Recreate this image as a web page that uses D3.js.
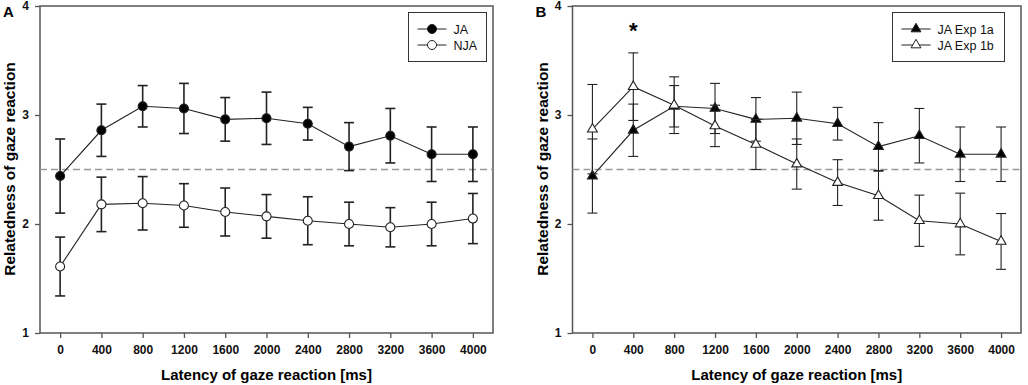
<!DOCTYPE html>
<html lang="en">
  <head>
    <meta charset="UTF-8" />
    <title>Gaze reaction</title>
    <style>
      body { margin: 0; background: #fff; }
      svg text { font-family: "Liberation Sans", Arial, sans-serif; }
    </style>
  </head>
  <body>
    <svg id="chart" width="1028" height="385"></svg>
    <script src="https://d3js.org/d3.v7.min.js"></script>
    <script>
      // data
      const latency = [0, 400, 800, 1200, 1600, 2000, 2400, 2800, 3200, 3600, 4000];
      const jaMean = [2.44, 2.86, 3.08, 3.06, 2.96, 2.97, 2.92, 2.71, 2.81, 2.64, 2.64];
      const jaErr = [0.34, 0.24, 0.19, 0.23, 0.2, 0.24, 0.15, 0.22, 0.25, 0.25, 0.25];
      const njaMean = [1.61, 2.18, 2.19, 2.17, 2.11, 2.07, 2.03, 2.0, 1.97, 2.0, 2.05];
      const njaErr = [0.27, 0.25, 0.245, 0.2, 0.22, 0.2, 0.22, 0.2, 0.18, 0.2, 0.23];
      const ja1bMean = [2.87, 3.26, 3.09, 2.9, 2.73, 2.55, 2.38, 2.26, 2.03, 2.0, 1.84];
      const ja1bErr = [0.41, 0.31, 0.26, 0.19, 0.23, 0.23, 0.21, 0.225, 0.235, 0.283, 0.256];
      const yTicks = [1, 2, 3, 4];
      const chance = 2.5;

      const svg = d3.select("#chart");
      const ink = "#222";

      const drawPanel = (p) => {
        const g = svg.append("g");
        const x = d3.scaleLinear().domain([-195, 4195]).range([p.left, p.right]);
        const y = d3.scaleLinear().domain([1, 4]).range([333, 6]);

        // frame
        g.append("rect")
          .attr("x", p.left).attr("y", 6)
          .attr("width", p.right - p.left).attr("height", 327)
          .attr("fill", "none").attr("stroke", "#555").attr("stroke-width", 1.5);

        // axes
        const xAxis = g.append("g")
          .attr("transform", "translate(0,333)")
          .call(d3.axisBottom(x).tickValues(latency).tickFormat(d3.format("d")).tickSize(5).tickPadding(7).tickSizeOuter(0));
        const yAxis = g.append("g")
          .attr("transform", `translate(${p.left},0)`)
          .call(d3.axisLeft(y).tickValues(yTicks).tickFormat(d3.format("d")).tickSize(5).tickPadding(6).tickSizeOuter(0));
        [xAxis, yAxis].forEach((a) => {
          a.select(".domain").remove();
          a.selectAll("line").attr("stroke", "#555").attr("stroke-width", 1.3);
          a.selectAll("text").attr("fill", "#111").style("font-size", "12px").style("font-weight", "bold");
        });

        // chance line
        g.append("line")
          .attr("x1", p.left).attr("x2", p.right)
          .attr("y1", y(chance)).attr("y2", y(chance))
          .attr("stroke", "#999").attr("stroke-width", 1.3)
          .attr("stroke-dasharray", "7,4");

        // series
        p.series.forEach((s) => {
          const pts = latency.map((l, i) => ({ l, m: s.mean[i], e: s.err[i] }));
          const eb = g.append("g").attr("stroke", ink).attr("stroke-width", p.barWidth);
          eb.selectAll(".v").data(pts).join("line")
            .attr("x1", (d) => x(d.l)).attr("x2", (d) => x(d.l))
            .attr("y1", (d) => y(d.m + d.e)).attr("y2", (d) => y(d.m - d.e));
          [1, -1].forEach((sg) => {
            eb.selectAll(null).data(pts).join("line")
              .attr("x1", (d) => x(d.l) - 5).attr("x2", (d) => x(d.l) + 5)
              .attr("y1", (d) => y(d.m + sg * d.e)).attr("y2", (d) => y(d.m + sg * d.e));
          });
          g.append("path")
            .datum(pts)
            .attr("fill", "none").attr("stroke", ink).attr("stroke-width", 1.1)
            .attr("d", d3.line().x((d) => x(d.l)).y((d) => y(d.m)));
          g.selectAll(null).data(pts).join("path")
            .attr("transform", (d) => `translate(${x(d.l)},${y(d.m)})`)
            .attr("d", d3.symbol().type(s.shape).size(s.size))
            .attr("fill", s.fill).attr("stroke", ink).attr("stroke-width", 1.1);
        });

        // legend
        const lg = g.append("g");
        lg.append("rect")
          .attr("x", p.legend.x).attr("y", 12.5)
          .attr("width", p.legend.w).attr("height", 49)
          .attr("fill", "#fff").attr("stroke", "#333").attr("stroke-width", 1);
        p.series.forEach((s, i) => {
          const ly = 29 + i * 16;
          const lx = p.legend.x + 9;
          lg.append("line")
            .attr("x1", lx).attr("x2", lx + 29).attr("y1", ly).attr("y2", ly)
            .attr("stroke", ink).attr("stroke-width", 1);
          lg.append("path")
            .attr("transform", `translate(${lx + 14.5},${ly})`)
            .attr("d", d3.symbol().type(s.shape).size(s.size))
            .attr("fill", s.fill).attr("stroke", ink).attr("stroke-width", 1);
          lg.append("text")
            .attr("x", lx + 36).attr("y", ly + 4.5)
            .style("font-size", "12.5px").attr("fill", "#111")
            .text(s.name);
        });

        // titles
        svg.append("text")
          .attr("x", (p.left + p.right) / 2).attr("y", 380)
          .attr("text-anchor", "middle")
          .style("font-size", "15px").style("font-weight", "bold")
          .text("Latency of gaze reaction [ms]");
        svg.append("text")
          .attr("transform", `translate(${p.left - 25},169) rotate(-90)`)
          .attr("text-anchor", "middle")
          .style("font-size", "15.5px").style("font-weight", "bold")
          .text("Relatedness of gaze reaction");
        svg.append("text")
          .attr("x", p.left - 37).attr("y", 17)
          .style("font-size", "15px").style("font-weight", "bold")
          .text(p.label);
      };

      drawPanel({
        label: "A", left: 40, right: 493, barWidth: 1.6,
        legend: { x: 408.5, w: 78 },
        series: [
          { name: "JA", mean: jaMean, err: jaErr, shape: d3.symbolCircle, size: 64, fill: "#000" },
          { name: "NJA", mean: njaMean, err: njaErr, shape: d3.symbolCircle, size: 64, fill: "#fff" },
        ],
      });

      drawPanel({
        label: "B", left: 572.5, right: 1021, barWidth: 1.1,
        legend: { x: 892.5, w: 112 },
        series: [
          { name: "JA Exp 1a", mean: jaMean, err: jaErr, shape: d3.symbolTriangle, size: 42, fill: "#000" },
          { name: "JA Exp 1b", mean: ja1bMean, err: ja1bErr, shape: d3.symbolTriangle, size: 42, fill: "#fff" },
        ],
      });

      // significance marker at 400 ms in panel B
      const xB = d3.scaleLinear().domain([-195, 4195]).range([572.5, 1021]);
      svg.append("text")
        .attr("x", xB(400)).attr("y", 38)
        .attr("text-anchor", "middle")
        .style("font-size", "22px").style("font-weight", "bold")
        .text("*");
    </script>
  </body>
</html>
